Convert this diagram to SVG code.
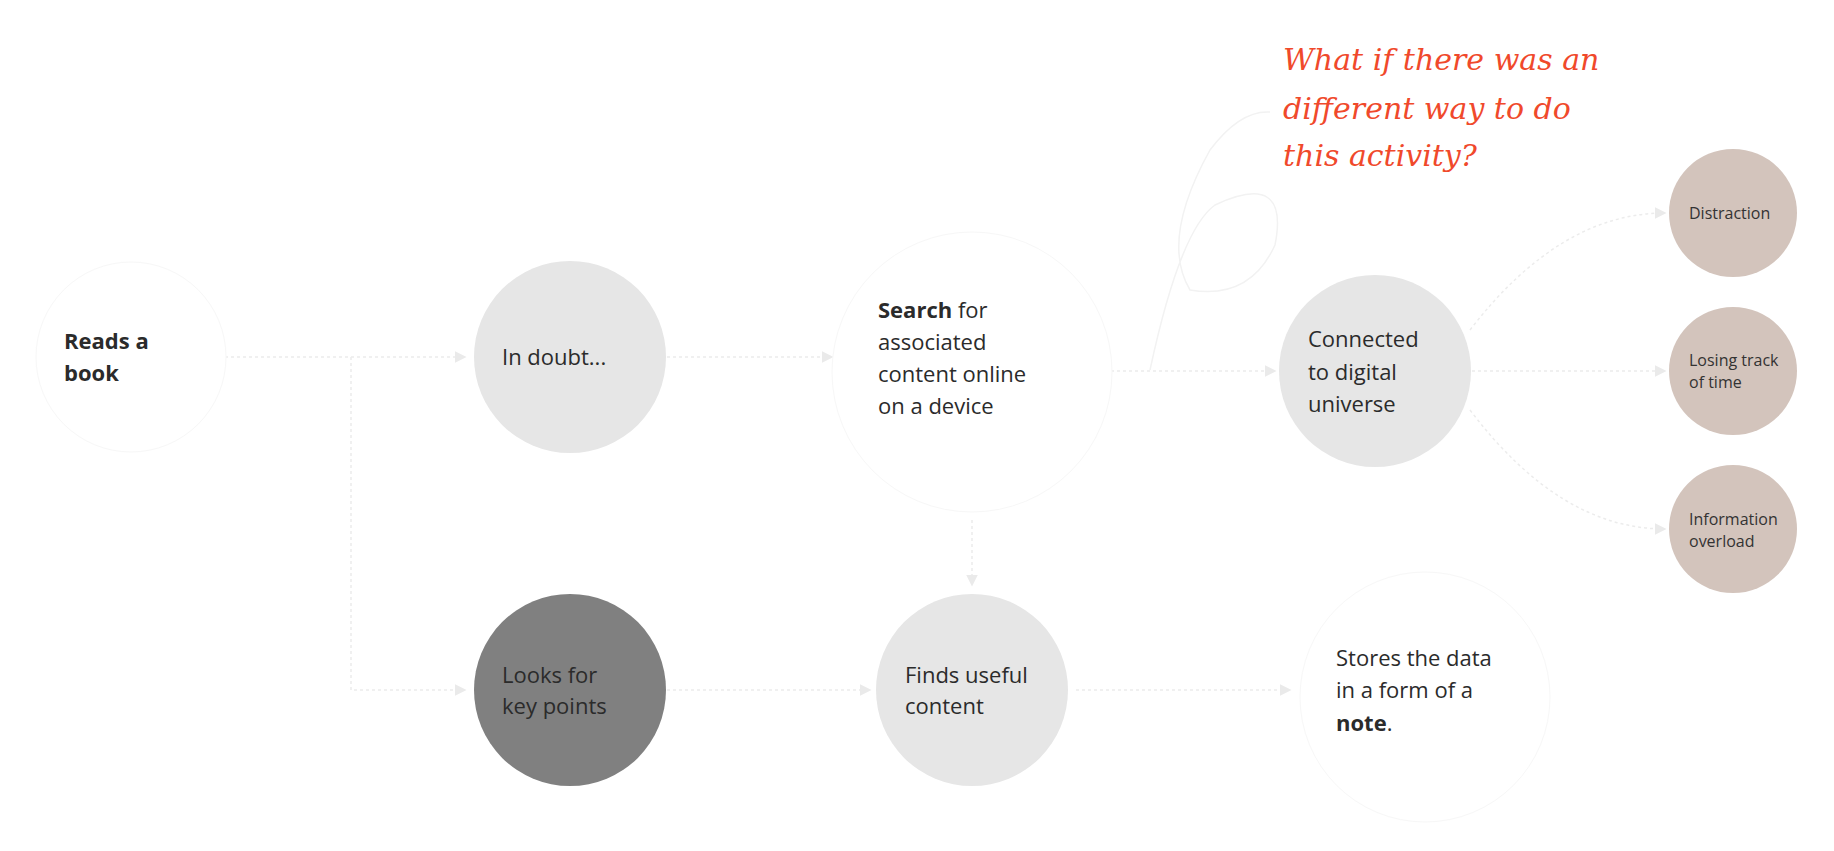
<svg xmlns="http://www.w3.org/2000/svg" width="1834" height="851" viewBox="0 0 1834 851">
<style>
.t{font-family:"Open Sans","Liberation Sans",sans-serif;font-size:22px;fill:#2b2b2b}
.s{font-family:"Open Sans","Liberation Sans",sans-serif;font-size:16px;fill:#333}
.b{font-weight:bold}
.c{stroke:#ececec;stroke-width:1.5;fill:none;stroke-dasharray:3 3}
.ring{fill:#fff;stroke:#f7f7f7;stroke-width:1}
.q{font-family:"DejaVu Serif","Liberation Serif",serif;font-style:italic;font-size:30px;fill:#f0492b}
</style>
<defs><marker id="a" markerWidth="8" markerHeight="8" refX="7" refY="4" orient="auto"><path d="M0,0 L8,4 L0,8 z" fill="#eaeaea"/></marker></defs>
<rect width="1834" height="851" fill="#fff"/>
<g id="connectors">
<path class="c" d="M225,357 H465" marker-end="url(#a)"/>
<path class="c" d="M351,357 V690 H465" marker-end="url(#a)"/>
<path class="c" d="M667,357 H832" marker-end="url(#a)"/>
<path class="c" d="M667,690 H870" marker-end="url(#a)"/>
<path class="c" d="M972,520 V585" marker-end="url(#a)"/>
<path class="c" d="M1105,371 H1275" marker-end="url(#a)"/>
<path class="c" d="M1076,690 H1290" marker-end="url(#a)"/>
<path class="c" d="M1470,330 Q1560,213 1665,213" marker-end="url(#a)"/>
<path class="c" d="M1472,371 H1665" marker-end="url(#a)"/>
<path class="c" d="M1470,410 Q1560,529 1665,529" marker-end="url(#a)"/>
<path d="M1150,370 Q1180,230 1215,205 Q1290,170 1275,245 Q1250,300 1190,290 Q1160,240 1210,150 Q1240,110 1270,112" stroke="#f2f2f2" stroke-width="1.5" fill="none"/>
</g>
<g id="n-reads"><circle class="ring" cx="131" cy="357" r="95"/><text class="t b" x="64" y="349">Reads a</text><text class="t b" x="64" y="381">book</text></g>
<g id="n-doubt"><circle cx="570" cy="357" r="96" fill="#e6e6e6"/><text class="t" x="502" y="365">In doubt...</text></g>
<g id="n-search"><circle class="ring" cx="972" cy="372" r="140"/><text class="t" x="878" y="318"><tspan class="b">Search</tspan> for</text><text class="t" x="878" y="350">associated</text><text class="t" x="878" y="382">content online</text><text class="t" x="878" y="414">on a device</text></g>
<g id="n-keypoints"><circle cx="570" cy="690" r="96" fill="#808080"/><text class="t" x="502" y="683">Looks for</text><text class="t" x="502" y="714">key points</text></g>
<g id="n-finds"><circle cx="972" cy="690" r="96" fill="#e6e6e6"/><text class="t" x="905" y="683">Finds useful</text><text class="t" x="905" y="714">content</text></g>
<g id="n-connected"><circle cx="1375" cy="371" r="96" fill="#e6e6e6"/><text class="t" x="1308" y="347">Connected</text><text class="t" x="1308" y="380">to digital</text><text class="t" x="1308" y="412">universe</text></g>
<g id="n-stores"><circle class="ring" cx="1425" cy="697" r="125"/><text class="t" x="1336" y="666">Stores the data</text><text class="t" x="1336" y="698">in a form of a</text><text class="t" x="1336" y="731"><tspan class="b">note</tspan>.</text></g>
<g id="n-distraction"><circle cx="1733" cy="213" r="64" fill="#d3c4bc"/><text class="s" x="1689" y="219">Distraction</text></g>
<g id="n-losing"><circle cx="1733" cy="371" r="64" fill="#d3c4bc"/><text class="s" x="1689" y="366">Losing track</text><text class="s" x="1689" y="388">of time</text></g>
<g id="n-info"><circle cx="1733" cy="529" r="64" fill="#d3c4bc"/><text class="s" x="1689" y="525">Information</text><text class="s" x="1689" y="547">overload</text></g>
<g id="note"><text class="q" x="1283" y="70">What if there was an</text><text class="q" x="1283" y="119">different way to do</text><text class="q" x="1283" y="166">this activity?</text></g>
</svg>
